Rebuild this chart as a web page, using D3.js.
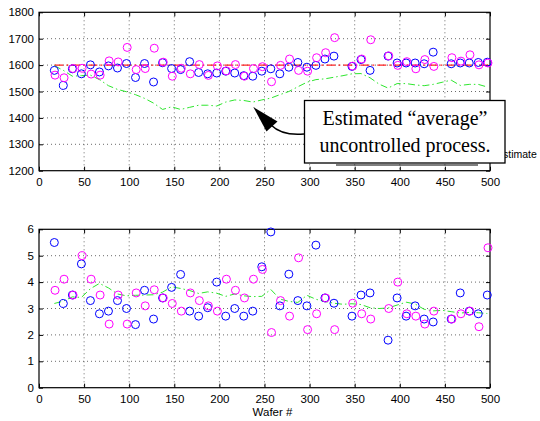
<!DOCTYPE html>
<html>
<head>
<meta charset="utf-8">
<script src="https://cdn.jsdelivr.net/npm/d3@7"></script>
<style>
  html, body { margin: 0; padding: 0; background: #fff; }
  svg { display: block; font-family: "Liberation Sans", Arial, Helvetica, sans-serif; }
</style>
</head>
<body>
<svg id="chart" width="540" height="421"></svg>
<script>
// ---------------- DATA ----------------
const wafers = [17,27,37,47,57,67,77,87,97,107,117,127,137,147,157,167,177,187,197,207,217,227,237,247,257,267,277,287,297,307,317,327,337,347,357,367,377,387,397,407,417,427,437,447,457,467,477,487,497];

const topBlue = [1580,1523,1586,1567,1601,1574,1597,1589,1606,1553,1606,1536,1609,1587,1583,1613,1572,1567,1570,1577,1570,1560,1558,1577,1586,1567,1592,1610,1592,1599,1623,1634,null,1595,1621,1580,null,1634,1608,1608,1608,1605,1649,null,1605,1608,1608,1610,1611];
const topMagenta = [1562,1552,1587,1588,1566,1562,1616,1612,1667,1583,1587,1664,1611,1558,1588,1567,1602,1561,1597,1578,1602,1558,1587,1594,1537,1599,1623,1580,1577,1628,1647,1704,null,1596,1623,1696,null,1635,1599,1613,1586,1621,1595,null,1628,1615,1639,1601,1608];
const topGreen = [1598,1580,1558,1560,1562,1545,1522,1508,1499,1488,1474,1456,1432,1442,1432,1440,1448,1448,1445,1460,1468,1466,1460,1468,1475,1488,1500,1518,1535,1545,1548,1554,1560,1567,1568,1552,1528,1513,1530,1530,1525,1522,1527,1535,1543,1523,1527,1527,1517];
const topTarget = [[17,1600],[500,1600]];

const botBlue = [5.50,3.19,3.51,4.69,3.30,2.80,2.90,3.30,3.00,2.39,3.69,2.60,3.40,3.80,4.29,2.90,2.71,3.03,4.00,2.71,3.00,2.71,2.90,4.58,5.90,3.10,4.30,3.30,3.10,5.40,3.40,3.20,null,2.71,3.51,3.59,null,1.80,3.40,2.71,3.10,2.60,2.49,null,2.60,3.59,2.90,2.80,3.51];
const botMagenta = [3.69,4.11,3.51,5.00,4.11,3.51,2.41,3.51,2.41,3.59,3.10,3.71,3.40,3.19,2.90,3.59,3.30,3.10,2.90,4.11,3.69,3.40,4.11,4.48,2.09,3.30,2.71,4.92,2.20,2.80,3.40,2.20,null,3.20,2.80,2.60,null,3.00,4.00,2.80,2.71,2.41,2.90,null,2.60,2.80,2.90,2.31,5.30];
const botGreen = [3.19,3.28,3.44,3.42,3.75,3.95,3.78,3.55,3.48,3.50,3.51,3.52,3.62,3.82,3.76,3.68,3.57,3.63,3.58,3.46,3.55,3.48,3.45,3.46,3.72,3.36,3.27,3.23,3.50,3.35,3.26,3.20,3.16,3.18,3.15,3.03,3.00,3.02,3.13,3.24,3.17,2.97,2.91,2.93,2.88,2.83,2.85,2.84,2.81];

const xTicks = [0,50,100,150,200,250,300,350,400,450,500];
const topYTicks = [1200,1300,1400,1500,1600,1700,1800];
const botYTicks = [0,1,2,3,4,5,6];
const xLabel = "Wafer #";
const annotationLines = ["Estimated \u201caverage\u201d", "uncontrolled process."];
const legendText = "Estimate";

// ---------------- DRAW ----------------
const svg = d3.select("#chart");
svg.append("rect").attr("width", 540).attr("height", 421).attr("fill", "#fff");

const BLUE = "#0000ff", MAG = "#ff00ff", GREEN = "#2ee62e", RED = "#ff2020";
const SANS = "'Liberation Sans', Arial, Helvetica, sans-serif";
const SERIF = "'Liberation Serif', 'Times New Roman', Times, serif";
const L = 39, R = 490;
const x = d3.scaleLinear().domain([0, 500]).range([L, R]);

function panel(yDomain, yTop, yBot, yTicks, blue, mag, green, target, showXLabel) {
  const y = d3.scaleLinear().domain(yDomain).range([yBot, yTop]);
  const g = svg.append("g");

  // grid
  const grid = g.append("g").attr("stroke", "#444").attr("stroke-width", 0.8)
    .attr("stroke-dasharray", "1,3");
  xTicks.slice(1, -1).forEach(t => grid.append("line")
    .attr("x1", x(t)).attr("x2", x(t)).attr("y1", yTop).attr("y2", yBot));
  yTicks.slice(1, -1).forEach(t => grid.append("line")
    .attr("x1", L).attr("x2", R).attr("y1", y(t)).attr("y2", y(t)));

  // axes (inward ticks)
  const ax = g.append("g").attr("transform", `translate(0,${yBot})`)
    .call(d3.axisBottom(x).tickValues(xTicks).tickSize(-4).tickPadding(7).tickFormat(d3.format("d")));
  const axTop = g.append("g").attr("transform", `translate(0,${yTop})`)
    .call(d3.axisTop(x).tickValues(xTicks).tickSize(-4).tickFormat(""));
  const ay = g.append("g").attr("transform", `translate(${L},0)`)
    .call(d3.axisLeft(y).tickValues(yTicks).tickSize(-4).tickPadding(5).tickFormat(d3.format("d")));
  const ayR = g.append("g").attr("transform", `translate(${R},0)`)
    .call(d3.axisRight(y).tickValues(yTicks).tickSize(-4).tickFormat(""));
  [ax, axTop, ay, ayR].forEach(a => {
    a.attr("font-family", SANS);
    a.select(".domain").remove();
    a.selectAll("line").attr("stroke", "#000").attr("stroke-width", 1);
    a.selectAll("text").attr("font-size", 11.5).attr("fill", "#000");
  });
  g.append("rect").attr("x", L).attr("y", yTop).attr("width", R - L).attr("height", yBot - yTop)
    .attr("fill", "none").attr("stroke", "#000").attr("stroke-width", 1.2);

  // target line
  if (target) {
    g.append("path").datum(target)
      .attr("d", d3.line().x(d => x(d[0])).y(d => y(d[1])))
      .attr("fill", "none").attr("stroke", RED).attr("stroke-width", 1.2)
      .attr("stroke-dasharray", "9,3,2,3");
  }
  // green estimate line
  const gd = wafers.map((w, i) => [w, green[i]]);
  g.append("path").datum(gd)
    .attr("d", d3.line().x(d => x(d[0])).y(d => y(d[1])))
    .attr("fill", "none").attr("stroke", GREEN).attr("stroke-width", 1)
    .attr("stroke-dasharray", "7,3,1.5,3");

  // points
  function pts(vals, col, dx) {
    const d = wafers.map((w, i) => [w, vals[i]]).filter(p => p[1] !== null);
    g.append("g").selectAll("circle").data(d).join("circle")
      .attr("cx", p => x(p[0]) + dx).attr("cy", p => y(p[1])).attr("r", 4)
      .attr("fill", "none").attr("stroke", col).attr("stroke-width", 1);
  }
  pts(blue, BLUE, 0);
  pts(mag, MAG, 0.7);

  if (showXLabel) {
    g.append("text").attr("x", (L + R) / 2 + 8).attr("y", 416).attr("text-anchor", "middle")
      .attr("font-family", SANS).attr("font-size", 11.5).text(xLabel);
  }
  return y;
}

panel([1200, 1800], 12.3, 170.7, topYTicks, topBlue, topMagenta, topGreen, topTarget, false);
panel([0, 6], 229.3, 387.7, botYTicks, botBlue, botMagenta, botGreen, null, true);

// hidden legend remnants
svg.append("text").attr("x", 496).attr("y", 158).attr("font-family", SANS)
  .attr("font-size", 10.5).text(legendText);
svg.append("line").attr("x1", 336).attr("x2", 478).attr("y1", 165).attr("y2", 165)
  .attr("stroke", "#000").attr("stroke-width", 1.2);

// annotation box
svg.append("rect").attr("x", 304.5).attr("y", 100.5).attr("width", 200.5).attr("height", 62.5)
  .attr("fill", "#fff").attr("stroke", "#000").attr("stroke-width", 1.3);
annotationLines.forEach((t, i) => {
  svg.append("text").attr("x", 405).attr("y", 125 + i * 27).attr("text-anchor", "middle")
    .attr("font-family", SERIF).attr("font-size", 20).text(t);
});
// arrow
svg.append("path").attr("d", "M304,134 Q282,136 271,125")
  .attr("fill", "none").attr("stroke", "#000").attr("stroke-width", 1.5);
svg.append("path").attr("d", "M253.3,107 L277.5,121.5 L266.5,131.5 Z").attr("fill", "#000");
</script>
</body>
</html>
